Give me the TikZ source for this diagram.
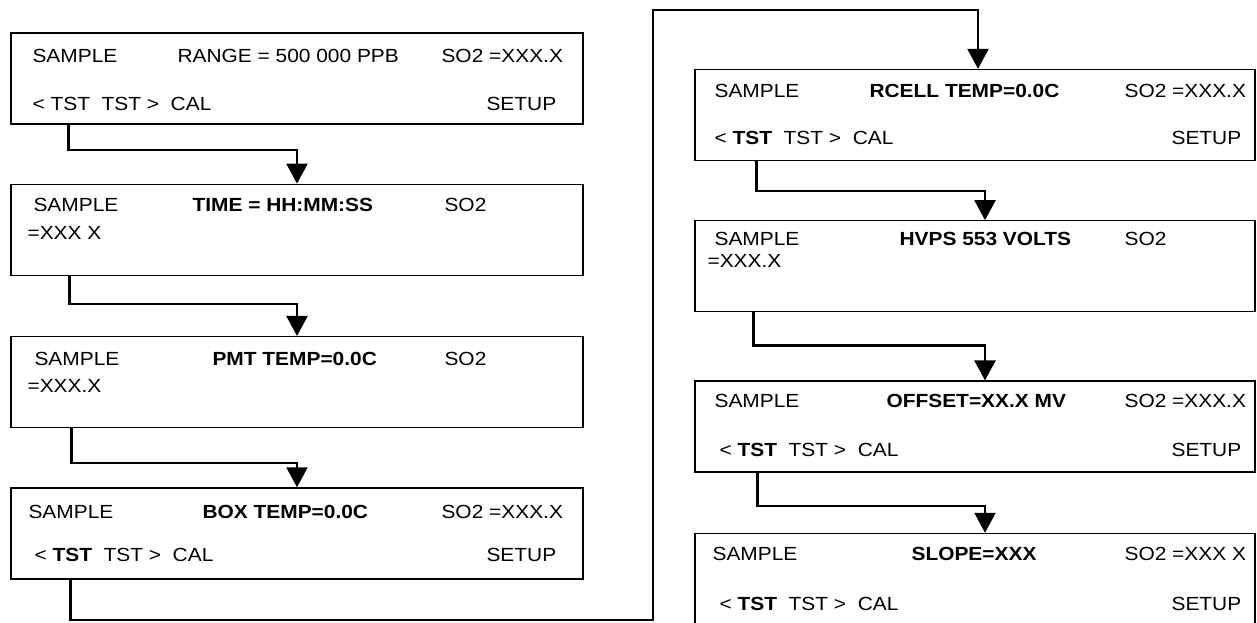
\documentclass[tikz,border=0pt]{standalone}
\usepackage{fontspec}
\setmainfont{Liberation Sans}[FakeStretch=1.1]
\usetikzlibrary{arrows.meta,positioning}

\begin{document}
\begin{tikzpicture}[
    x=1pt, y=-1pt,
    node distance=59pt,
    ekran/.style={rectangle,draw,line width=1.3pt,minimum width=572pt,
                  minimum height=91pt,inner sep=0pt},
    ekrand/.style={ekran,minimum width=560pt},
    tekst/.style={anchor=base west,inner sep=0pt,font=\fontsize{19}{22}\selectfont},
    veza/.style={-{Triangle[length=20pt,width=21pt]},line width=2.3pt}
]
\useasboundingbox (0,0) rectangle (1257,622);

% levi stubac
\node[ekran] (range) at (297,78.5) {};
\node[ekran,below=of range] (time) {};
\node[ekran,below=60pt of time] (pmt) {};
\node[ekran,below=of pmt] (boxt) {};

% desni stubac
\node[ekrand] (rcell) at (975,115) {};
\node[ekrand,below=of rcell] (hvps) {};
\node[ekrand,below=68pt of hvps] (offset) {};
\node[ekrand,below=60pt of offset] (slope) {};

\node[tekst] (range1) at ([shift={(22,30.5)}]range.north west) {SAMPLE};
\node[tekst] (range2) at ([shift={(167,30.5)}]range.north west) {RANGE = 500 000 PPB};
\node[tekst] (range3) at ([shift={(431,30.5)}]range.north west) {SO2 =XXX.X};
\node[tekst] (range4) at ([shift={(22,78.5)}]range.north west) {< TST\ \ TST >\ \ CAL};
\node[tekst] (range5) at ([shift={(476,78.5)}]range.north west) {SETUP};

\node[tekst] (time1) at ([shift={(23,27.5)}]time.north west) {SAMPLE};
\node[tekst] (time2) at ([shift={(182,27.5)}]time.north west) {\textbf{TIME = HH:MM:SS}};
\node[tekst] (time3) at ([shift={(434,27.5)}]time.north west) {SO2};
\node[tekst] (time4) at ([shift={(17,55.5)}]time.north west) {=XXX X};

\node[tekst] (pmt1) at ([shift={(24,29.5)}]pmt.north west) {SAMPLE};
\node[tekst] (pmt2) at ([shift={(202,29.5)}]pmt.north west) {\textbf{PMT TEMP=0.0C}};
\node[tekst] (pmt3) at ([shift={(434,29.5)}]pmt.north west) {SO2};
\node[tekst] (pmt4) at ([shift={(17,56.5)}]pmt.north west) {=XXX.X};

\node[tekst] (boxt1) at ([shift={(18,31.5)}]boxt.north west) {SAMPLE};
\node[tekst] (boxt2) at ([shift={(192,31.5)}]boxt.north west) {\textbf{BOX TEMP=0.0C}};
\node[tekst] (boxt3) at ([shift={(431,31.5)}]boxt.north west) {SO2 =XXX.X};
\node[tekst] (boxt4) at ([shift={(24,74.5)}]boxt.north west) {< \textbf{TST}\ \ TST >\ \ CAL};
\node[tekst] (boxt5) at ([shift={(476,74.5)}]boxt.north west) {SETUP};

\node[tekst] (rcell1) at ([shift={(20,28.5)}]rcell.north west) {SAMPLE};
\node[tekst] (rcell2) at ([shift={(175,28.5)}]rcell.north west) {\textbf{RCELL TEMP=0.0C}};
\node[tekst] (rcell3) at ([shift={(430,28.5)}]rcell.north west) {SO2 =XXX.X};
\node[tekst] (rcell4) at ([shift={(20,75.5)}]rcell.north west) {< \textbf{TST}\ \ TST >\ \ CAL};
\node[tekst] (rcell5) at ([shift={(477,75.5)}]rcell.north west) {SETUP};

\node[tekst] (hvps1) at ([shift={(20,25.5)}]hvps.north west) {SAMPLE};
\node[tekst] (hvps2) at ([shift={(205,25.5)}]hvps.north west) {\textbf{HVPS 553 VOLTS}};
\node[tekst] (hvps3) at ([shift={(430,25.5)}]hvps.north west) {SO2};
\node[tekst] (hvps4) at ([shift={(13,47.5)}]hvps.north west) {=XXX.X};

\node[tekst] (offset1) at ([shift={(20,27.5)}]offset.north west) {SAMPLE};
\node[tekst] (offset2) at ([shift={(192,27.5)}]offset.north west) {\textbf{OFFSET=XX.X MV}};
\node[tekst] (offset3) at ([shift={(430,27.5)}]offset.north west) {SO2 =XXX.X};
\node[tekst] (offset4) at ([shift={(25,76.5)}]offset.north west) {< \textbf{TST}\ \ TST >\ \ CAL};
\node[tekst] (offset5) at ([shift={(477,76.5)}]offset.north west) {SETUP};

\node[tekst] (slope1) at ([shift={(18,27.5)}]slope.north west) {SAMPLE};
\node[tekst] (slope2) at ([shift={(217,27.5)}]slope.north west) {\textbf{SLOPE=XXX}};
\node[tekst] (slope3) at ([shift={(430,27.5)}]slope.north west) {SO2 =XXX X};
\node[tekst] (slope4) at ([shift={(25,77.5)}]slope.north west) {< \textbf{TST}\ \ TST >\ \ CAL};
\node[tekst] (slope5) at ([shift={(477,77.5)}]slope.north west) {SETUP};

% veze
\coordinate (dole) at (653,620);
\coordinate (gore) at (653,10);
\draw[veza] ([xshift=58pt]range.south west) -- ++(0,25) -| (time.north);
\draw[veza] ([xshift=59pt]time.south west) -- ++(0,28) -| (pmt.north);
\draw[veza] ([xshift=61pt]pmt.south west) -- ++(0,35) -| (boxt.north);
\draw[veza] ([xshift=60pt]boxt.south west) |- (dole) -- (gore) -| ([xshift=3pt]rcell.north);
\draw[veza] ([xshift=62pt]rcell.south west) -- ++(0,30) -| ([xshift=10pt]hvps.north);
\draw[veza] ([xshift=59pt]hvps.south west) -- ++(0,33) -| ([xshift=10pt]offset.north);
\draw[veza] ([xshift=63pt]offset.south west) -- ++(0,33) -| ([xshift=10pt]slope.north);
\end{tikzpicture}
\end{document}
